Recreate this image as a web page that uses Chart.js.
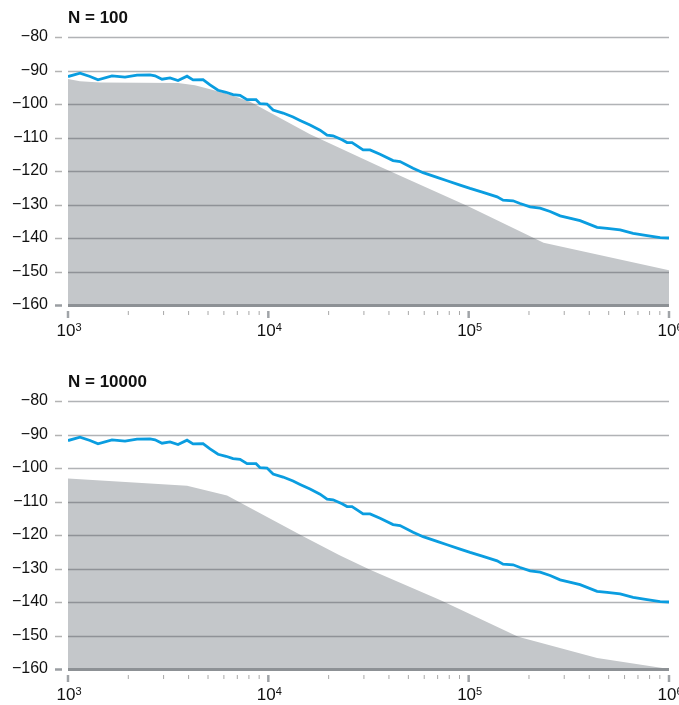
<!DOCTYPE html>
<html>
<head>
<meta charset="utf-8">
<script src="https://cdn.jsdelivr.net/npm/chart.js@4.4.1/dist/chart.umd.min.js"></script>
<style>
  html, body { margin:0; padding:0; background:#fff; width:679px; height:705px; overflow:hidden; }
  .wrap { position:absolute; left:0; width:700px; height:341px; }
  canvas { display:block; }
</style>
</head>
<body>
<div class="wrap" style="top:0"><canvas id="c1" width="700" height="341"></canvas></div>
<div class="wrap" style="top:364px"><canvas id="c2" width="700" height="341"></canvas></div>
<script>
// ---- data ----
const titles = ['N = 100', 'N = 10000'];
const freqSignal = [1000,1148,1288,1412,1658,1926,2211,2567,2719,2947,3230,3542,3928,4209,4721,5116,5609,6150,6665,7224,7830,8684,9091,9851,10560,11840,13290,14400,16150,18120,19640,21040,23330,24710,26170,27720,29710,32190,36120,41940,45440,52780,59190,69550,78030,90600,101600,118000,138700,148500,166600,180600,202600,227300,255000,286100,359900,437500,491000,570200,662000,777500,902800,1000000];
const levelSignal = [-91.8,-90.8,-91.8,-92.8,-91.6,-92.0,-91.4,-91.3,-91.6,-92.6,-92.2,-93.0,-91.7,-92.8,-92.7,-94.3,-95.9,-96.5,-97.2,-97.4,-98.7,-98.7,-99.9,-100.0,-101.8,-102.7,-103.9,-104.9,-106.3,-107.8,-109.3,-109.5,-110.7,-111.5,-111.5,-112.5,-113.7,-113.7,-115.0,-116.9,-117.2,-119.2,-120.5,-121.9,-122.9,-124.2,-125.2,-126.4,-127.7,-128.7,-128.9,-129.7,-130.7,-131.1,-132.1,-133.4,-134.8,-136.8,-137.1,-137.6,-138.6,-139.3,-139.9,-140.0];
const freqFloorN100 = [1000,1148,1445,3542,4300,5300,6500,8110,16150,36150,100000,236600,1000000];
const levelFloorN100 = [-92.5,-93.2,-93.6,-93.7,-94.4,-95.8,-97.3,-99.3,-109.0,-118.7,-130.6,-141.4,-149.6];
const freqFloorN10000 = [1000,3928,6220,14900,22800,32200,72000,176700,437700,1000000];
const levelFloorN10000 = [-103.1,-105.3,-108.2,-120.4,-126.1,-130.4,-139.4,-150.4,-156.7,-160];
const yTicks = [-80,-90,-100,-110,-120,-130,-140,-150,-160];
const xMajor = [1e3,1e4,1e5,1e6];
const xBase = '10';
const xExponents = ['3','4','5','6'];

const FONT = "'Liberation Sans', Arial, sans-serif";

function pts(xs, ys){ return xs.map((x,i)=>({x:x, y:ys[i]})); }

const decorPlugin = {
  id:'decor',
  afterDatasetDraw(chart, args){
    if (args.index !== 1) return;
    const ctx = chart.ctx, x = chart.scales.x, y = chart.scales.y, a = chart.chartArea;
    ctx.save();
    yTicks.forEach(v=>{
      const py = Math.round(y.getPixelForValue(v)) + 0.5;
      ctx.beginPath();
      if (v === -160) { ctx.lineWidth = 3; ctx.strokeStyle = '#8d9195'; }
      else { ctx.lineWidth = 1.5; ctx.strokeStyle = 'rgba(70,75,80,0.42)'; }
      ctx.moveTo(a.left, py); ctx.lineTo(a.right, py); ctx.stroke();
      ctx.beginPath();
      ctx.lineWidth = v === -160 ? 2.5 : 1.5;
      ctx.strokeStyle = v === -160 ? '#9a9ea2' : '#b3b3b3';
      ctx.moveTo(a.left - 13, py); ctx.lineTo(a.left - 6, py); ctx.stroke();
    });
    for (let d = 3; d <= 6; d++) {
      for (let m = 1; m <= 9; m++) {
        const v = m * Math.pow(10, d);
        if (v > 1e6) break;
        const px = x.getPixelForValue(v);
        ctx.beginPath();
        if (m === 1) { ctx.lineWidth = 2.5; ctx.strokeStyle = '#a0a4a8'; ctx.moveTo(px, a.bottom + 6); ctx.lineTo(px, a.bottom + 13); }
        else { ctx.lineWidth = 1; ctx.strokeStyle = '#a8a8a8'; ctx.moveTo(px, a.bottom + 6); ctx.lineTo(px, a.bottom + 10); }
        ctx.stroke();
      }
    }
    ctx.restore();
  },
  afterDraw(chart){
    const ctx = chart.ctx, x = chart.scales.x, a = chart.chartArea;
    ctx.save();
    ctx.fillStyle = '#111';
    ctx.textBaseline = 'alphabetic';
    ctx.textAlign = 'left';
    x.ticks.forEach((t, i)=>{
      const px = x.getPixelForValue(t.value);
      ctx.font = '17px ' + FONT;
      const w1 = ctx.measureText(xBase).width;
      ctx.font = '11px ' + FONT;
      const w2 = ctx.measureText(xExponents[i]).width;
      const start = px - (w1 + w2) / 2 + 1;
      ctx.font = '17px ' + FONT;
      ctx.fillText(xBase, start, a.bottom + 31);
      ctx.font = '11px ' + FONT;
      ctx.fillText(xExponents[i], start + w1, a.bottom + 26);
    });
    ctx.restore();
  }
};

function makeChart(id, title, fx, fy){
  return new Chart(document.getElementById(id), {
    type:'line',
    data:{
      datasets:[
        { data: pts(freqSignal, levelSignal), borderColor:'#0a9de0', borderWidth:2.8, pointRadius:0, fill:false, tension:0 },
        { data: pts(fx, fy), borderWidth:0, borderColor:'rgba(0,0,0,0)', backgroundColor:'#c4c7ca', pointRadius:0, fill:'start', tension:0 }
      ]
    },
    options:{
      responsive:false, animation:false,
      layout:{ padding:{ left:0, right:31, top:0, bottom:0 } },
      plugins:{
        legend:{ display:false }, tooltip:{ enabled:false },
        title:{ display:true, text:title, align:'start', fullSize:false, color:'#111',
          font:{ family:FONT, size:17, weight:'bold', lineHeight:1.2 },
          padding:{ top:8, bottom:8.6 } }
      },
      scales:{
        x:{ type:'logarithmic', min:1e3, max:1e6,
          grid:{ display:false, drawTicks:false }, border:{ display:false },
          afterBuildTicks(s){ s.ticks = xMajor.map(v=>({value:v})); },
          afterFit(s){ s.height = 36; },
          ticks:{ display:false }
        },
        y:{ min:-160, max:-80,
          grid:{ display:false, drawTicks:false }, border:{ display:false },
          afterBuildTicks(s){ s.ticks = yTicks.map(v=>({value:v})); },
          afterFit(s){ s.width = 68; },
          ticks:{ padding:20, color:'#111', font:{ family:FONT, size:16 },
            callback(v){ return (v < 0 ? '\u2212' : '') + Math.abs(v); } }
        }
      }
    },
    plugins:[decorPlugin]
  });
}
makeChart('c1', titles[0], freqFloorN100, levelFloorN100);
makeChart('c2', titles[1], freqFloorN10000, levelFloorN10000);
</script>
</body>
</html>
